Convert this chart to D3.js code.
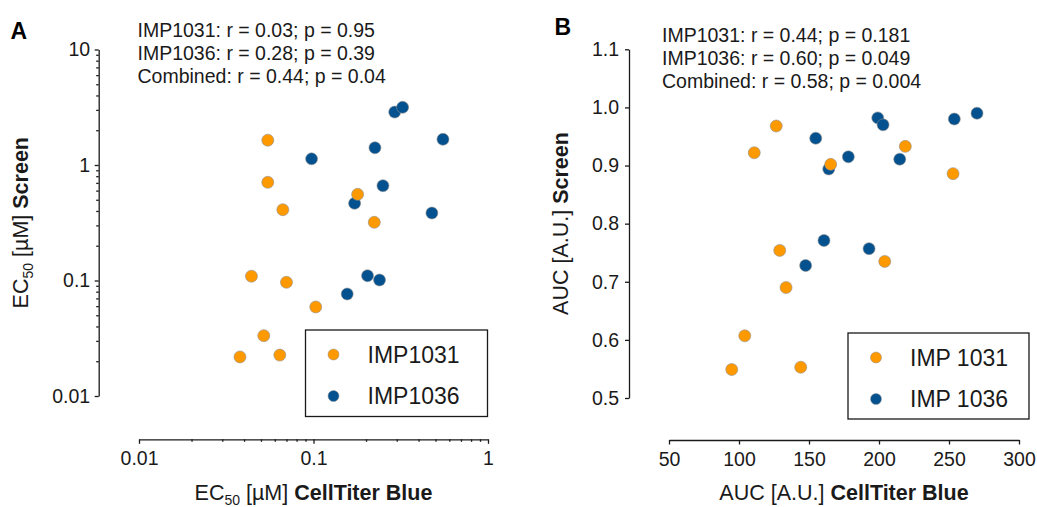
<!DOCTYPE html>
<html>
<head>
<meta charset="utf-8">
<script src="https://cdn.jsdelivr.net/npm/d3@7"></script>
<style>
  body { margin: 0; background: #fff; }
  svg { display: block; font-family: "Liberation Sans", Arial, Helvetica, sans-serif; }
</style>
</head>
<body>
<svg id="chart" width="1037" height="507"></svg>
<script>
// ---- data ----
const seriesA = ["IMP1031", "IMP1036"];
const seriesB = ["IMP 1031", "IMP 1036"];
const seriesColors = ["#FF9900", "#03518F"];

// Panel A: EC50 [µM], CellTiter Blue (x) vs Screen (y)
const ec50Ctb1031    = [0.0547, 0.0547, 0.0667, 0.179, 0.223, 0.0441, 0.070, 0.103, 0.0519, 0.0379, 0.0641];
const ec50Screen1031 = [1.64, 0.708, 0.410, 0.557, 0.319, 0.109, 0.0965, 0.059, 0.0333, 0.0218, 0.0226];
const ec50Ctb1036    = [0.0975, 0.292, 0.324, 0.552, 0.225, 0.250, 0.172, 0.477, 0.204, 0.239, 0.156];
const ec50Screen1036 = [1.13, 2.87, 3.16, 1.67, 1.41, 0.662, 0.466, 0.384, 0.110, 0.101, 0.0764];

// Panel B: AUC [A.U.], CellTiter Blue (x) vs Screen (y)
const aucCtb1031    = [126.6, 110.9, 165.5, 218.8, 252.9, 129.1, 204.1, 133.6, 104.1, 94.8, 144.1];
const aucScreen1031 = [0.968, 0.922, 0.902, 0.933, 0.886, 0.754, 0.735, 0.690, 0.607, 0.549, 0.553];
const aucCtb1036    = [199.1, 202.9, 253.8, 270.0, 154.8, 178.1, 214.8, 164.1, 160.7, 192.9, 147.6];
const aucScreen1036 = [0.982, 0.970, 0.980, 0.990, 0.947, 0.915, 0.911, 0.894, 0.771, 0.757, 0.728];

// axis ticks
const ticksLogX = [0.01, 0.1, 1];
const tickLabelsLogX = ["0.01", "0.1", "1"];
const ticksLogY = [0.01, 0.1, 1, 10];
const tickLabelsLogY = ["0.01", "0.1", "1", "10"];
const ticksAucX = [50, 100, 150, 200, 250, 300];
const tickLabelsAucX = ["50", "100", "150", "200", "250", "300"];
const ticksAucY = [0.5, 0.6, 0.7, 0.8, 0.9, 1.0, 1.1];
const tickLabelsAucY = ["0.5", "0.6", "0.7", "0.8", "0.9", "1.0", "1.1"];

// correlation statistics
const statsA = ["IMP1031: r = 0.03; p = 0.95", "IMP1036: r = 0.28; p = 0.39", "Combined: r = 0.44; p = 0.04"];
const statsB = ["IMP1031: r = 0.44; p = 0.181", "IMP1036: r = 0.60; p = 0.049", "Combined: r = 0.58; p = 0.004"];

// ---- drawing ----
const svg = d3.select("#chart");
const ink = "#1a1a1a";
const FS_TICK = 19.5, FS_TITLE = 21.5, FS_STATS = 19.5, FS_LEGEND = 23;

function styleAxis(g) {
  g.selectAll("path.domain").attr("stroke", ink).attr("stroke-width", 1.3);
  g.selectAll(".tick line").attr("stroke", ink).attr("stroke-width", 1.3);
  g.selectAll(".tick text").attr("fill", ink).attr("font-size", FS_TICK)
    .attr("font-family", "'Liberation Sans', Arial, sans-serif");
}

function labelMap(vals, labels) {
  return d => labels[vals.findIndex(v => Math.abs(v - d) < 1e-9)];
}

function minorLog(scale, major) {
  return scale.ticks().filter(t => !major.some(m => Math.abs(m - t) / m < 1e-6));
}

function points(g, xs, ys, x, y, color) {
  g.selectAll(null).data(xs.map((v, i) => [v, ys[i]])).join("circle")
    .attr("cx", d => x(d[0])).attr("cy", d => y(d[1])).attr("r", 6)
    .attr("fill", color).attr("stroke", "#8f8f8f").attr("stroke-width", 0.6);
}

function legend(g, box, labels) {
  g.append("rect").attr("x", box.x).attr("y", box.y).attr("width", box.w).attr("height", box.h)
    .attr("fill", "#fff").attr("stroke", ink).attr("stroke-width", 1.3);
  labels.forEach((lab, i) => {
    const cy = box.y + 24.5 + i * 41.5;
    g.append("circle").attr("cx", box.x + 28).attr("cy", cy).attr("r", 5.5)
      .attr("fill", seriesColors[i]).attr("stroke", "#8f8f8f").attr("stroke-width", 0.5);
    g.append("text").attr("x", box.x + 62).attr("y", cy + 8.2)
      .attr("font-size", FS_LEGEND).attr("fill", ink).text(lab);
  });
}

function stats(g, x, y0, lines) {
  lines.forEach((t, i) => {
    g.append("text").attr("x", x).attr("y", y0 + i * 23.2)
      .attr("font-size", FS_STATS).attr("fill", ink).text(t);
  });
}

// ===== Panel A =====
const gA = svg.append("g");
const xA = d3.scaleLog().domain([0.01, 1]).range([139, 488]);
const yA = d3.scaleLog().domain([0.01, 10]).range([396, 49.5]);

gA.append("g").attr("transform", "translate(0,439.3)")
  .call(d3.axisBottom(xA).tickValues(ticksLogX).tickFormat(labelMap(ticksLogX, tickLabelsLogX))
    .tickSize(4.5).tickSizeOuter(0).tickPadding(7.5))
  .call(styleAxis);
gA.append("g").attr("transform", "translate(0,439.3)")
  .call(d3.axisBottom(xA).tickValues(minorLog(xA, ticksLogX)).tickFormat("")
    .tickSize(2.5).tickSizeOuter(0))
  .call(g => g.select("path.domain").remove())
  .call(styleAxis);

gA.append("g").attr("transform", "translate(98.7,0)")
  .call(d3.axisLeft(yA).tickValues(ticksLogY).tickFormat(labelMap(ticksLogY, tickLabelsLogY))
    .tickSize(4).tickSizeOuter(0).tickPadding(4.5))
  .call(styleAxis);
gA.append("g").attr("transform", "translate(98.7,0)")
  .call(d3.axisLeft(yA).tickValues(minorLog(yA, ticksLogY)).tickFormat("")
    .tickSize(2.5).tickSizeOuter(0))
  .call(g => g.select("path.domain").remove())
  .call(styleAxis);

points(gA, ec50Ctb1036, ec50Screen1036, xA, yA, seriesColors[1]);
points(gA, ec50Ctb1031, ec50Screen1031, xA, yA, seriesColors[0]);

legend(gA, {x: 305.5, y: 330, w: 182, h: 86.5}, seriesA);
stats(gA, 137.5, 37, statsA);

gA.append("text").attr("x", 10.5).attr("y", 39).attr("font-size", 23)
  .attr("font-weight", "bold").attr("fill", "#000").text("A");

// x title
{
  const t = gA.append("text").attr("x", 313.5).attr("y", 500).attr("text-anchor", "middle")
    .attr("font-size", FS_TITLE).attr("fill", ink);
  t.append("tspan").text("EC");
  t.append("tspan").attr("font-size", 14).attr("dy", 5).text("50");
  t.append("tspan").attr("dy", -5).text(" [µM] ");
  t.append("tspan").attr("font-weight", "bold").text("CellTiter Blue");
}
// y title
{
  const t = gA.append("text").attr("transform", "translate(27.5,222.7) rotate(-90)")
    .attr("text-anchor", "middle").attr("font-size", FS_TITLE).attr("fill", ink);
  t.append("tspan").text("EC");
  t.append("tspan").attr("font-size", 14).attr("dy", 5).text("50");
  t.append("tspan").attr("dy", -5).text(" [µM] ");
  t.append("tspan").attr("font-weight", "bold").text("Screen");
}

// ===== Panel B =====
const gB = svg.append("g");
const xB = d3.scaleLinear().domain([50, 300]).range([669, 1019]);
const yB = d3.scaleLinear().domain([0.5, 1.1]).range([398, 49.3]);

gB.append("g").attr("transform", "translate(0,440)")
  .call(d3.axisBottom(xB).tickValues(ticksAucX).tickFormat(labelMap(ticksAucX, tickLabelsAucX))
    .tickSize(4.5).tickSizeOuter(0).tickPadding(7.5))
  .call(styleAxis);

gB.append("g").attr("transform", "translate(629,0)")
  .call(d3.axisLeft(yB).tickValues(ticksAucY).tickFormat(labelMap(ticksAucY, tickLabelsAucY))
    .tickSize(4).tickSizeOuter(0).tickPadding(6))
  .call(styleAxis);

points(gB, aucCtb1036, aucScreen1036, xB, yB, seriesColors[1]);
points(gB, aucCtb1031, aucScreen1031, xB, yB, seriesColors[0]);

legend(gB, {x: 848, y: 333, w: 181, h: 86}, seriesB);
stats(gB, 662, 42, statsB);

gB.append("text").attr("x", 554.5).attr("y", 35).attr("font-size", 23)
  .attr("font-weight", "bold").attr("fill", "#000").text("B");

{
  const t = gB.append("text").attr("x", 844).attr("y", 500).attr("text-anchor", "middle")
    .attr("font-size", FS_TITLE).attr("fill", ink);
  t.append("tspan").text("AUC [A.U.] ");
  t.append("tspan").attr("font-weight", "bold").text("CellTiter Blue");
}
{
  const t = gB.append("text").attr("transform", "translate(567.7,223.5) rotate(-90)")
    .attr("text-anchor", "middle").attr("font-size", FS_TITLE).attr("fill", ink);
  t.append("tspan").text("AUC [A.U.] ");
  t.append("tspan").attr("font-weight", "bold").text("Screen");
}
</script>
</body>
</html>
